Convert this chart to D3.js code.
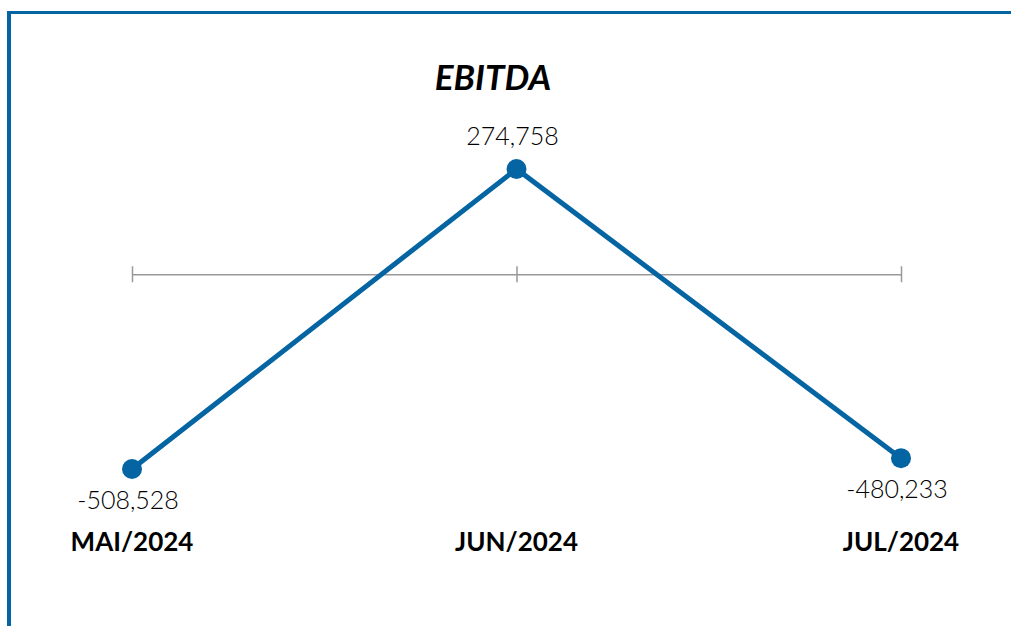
<!DOCTYPE html>
<html>
<head>
<meta charset="utf-8">
<script src="https://cdn.jsdelivr.net/npm/d3@7"></script>
<style>
    body { margin: 0; background: #fff; }
    svg { display: block; }
    text { font-family: Lato, "DejaVu Sans", sans-serif; }
</style>
</head>
<body>
<script>
// data
var months = ["MAI/2024", "JUN/2024", "JUL/2024"];
var ebitda = [-508528, 274758, -480233];
var chartTitle = "EBITDA";

var W = 1011, H = 626;
var blue = "#0565a2";

var svg = d3.select("body").append("svg")
    .attr("width", W)
    .attr("height", H);

// frame: left and top border
svg.append("rect").attr("x", 7).attr("y", 11).attr("width", 4).attr("height", H - 11)
    .attr("fill", blue);
svg.append("rect").attr("x", 7).attr("y", 11).attr("width", W - 7).attr("height", 3)
    .attr("fill", blue);

var x = d3.scalePoint().domain(months).range([132, 901]);
var y = d3.scaleLinear().domain([d3.min(ebitda), d3.max(ebitda)]).range([469, 169]);

// zero line with category ticks
var axis = d3.axisBottom(x).tickSize(8).tickSizeOuter(0).tickFormat("");
var zero = svg.append("g")
    .attr("transform", "translate(0," + y(0) + ")")
    .call(axis);
zero.select(".domain").attr("stroke", "#999").attr("stroke-width", 1.5);
zero.selectAll(".tick line").attr("stroke", "#999").attr("stroke-width", 1.5)
    .attr("y1", -8).attr("y2", 8);

svg.append("text")
    .attr("x", 493).attr("y", 90)
    .attr("text-anchor", "middle")
    .style("font-size", "35px")
    .style("font-weight", "bold")
    .style("font-style", "italic")
    .text(chartTitle);

var data = months.map(function(m, i) { return {m: m, v: ebitda[i]}; });

var line = d3.line()
    .x(function(d) { return x(d.m); })
    .y(function(d) { return y(d.v); });

svg.append("path")
    .datum(data)
    .attr("d", line)
    .attr("fill", "none")
    .attr("stroke", blue)
    .attr("stroke-width", 5);

svg.selectAll("circle.dot")
    .data(data)
    .enter()
    .append("circle")
    .attr("class", "dot")
    .attr("cx", function(d) { return x(d.m); })
    .attr("cy", function(d) { return y(d.v); })
    .attr("r", 10)
    .attr("fill", blue);

// plain hyphen for negatives, like the original
var fmt = function(v) { return d3.format(",")(v).replace("\u2212", "-"); };
svg.selectAll("text.val")
    .data(data)
    .enter()
    .append("text")
    .attr("class", "val")
    .attr("x", function(d) { return x(d.m) - 4; })
    .attr("y", function(d) { return d.v > 0 ? y(d.v) - 24 : y(d.v) + 40; })
    .attr("text-anchor", "middle")
    .style("font-size", "25px")
    .style("font-weight", 300)
    .text(function(d) { return fmt(d.v); });

svg.selectAll("text.cat")
    .data(months)
    .enter()
    .append("text")
    .attr("class", "cat")
    .attr("x", function(d) { return x(d); })
    .attr("y", 551)
    .attr("text-anchor", "middle")
    .style("font-size", "26px")
    .style("font-weight", "bold")
    .text(function(d) { return d; });
</script>
</body>
</html>
